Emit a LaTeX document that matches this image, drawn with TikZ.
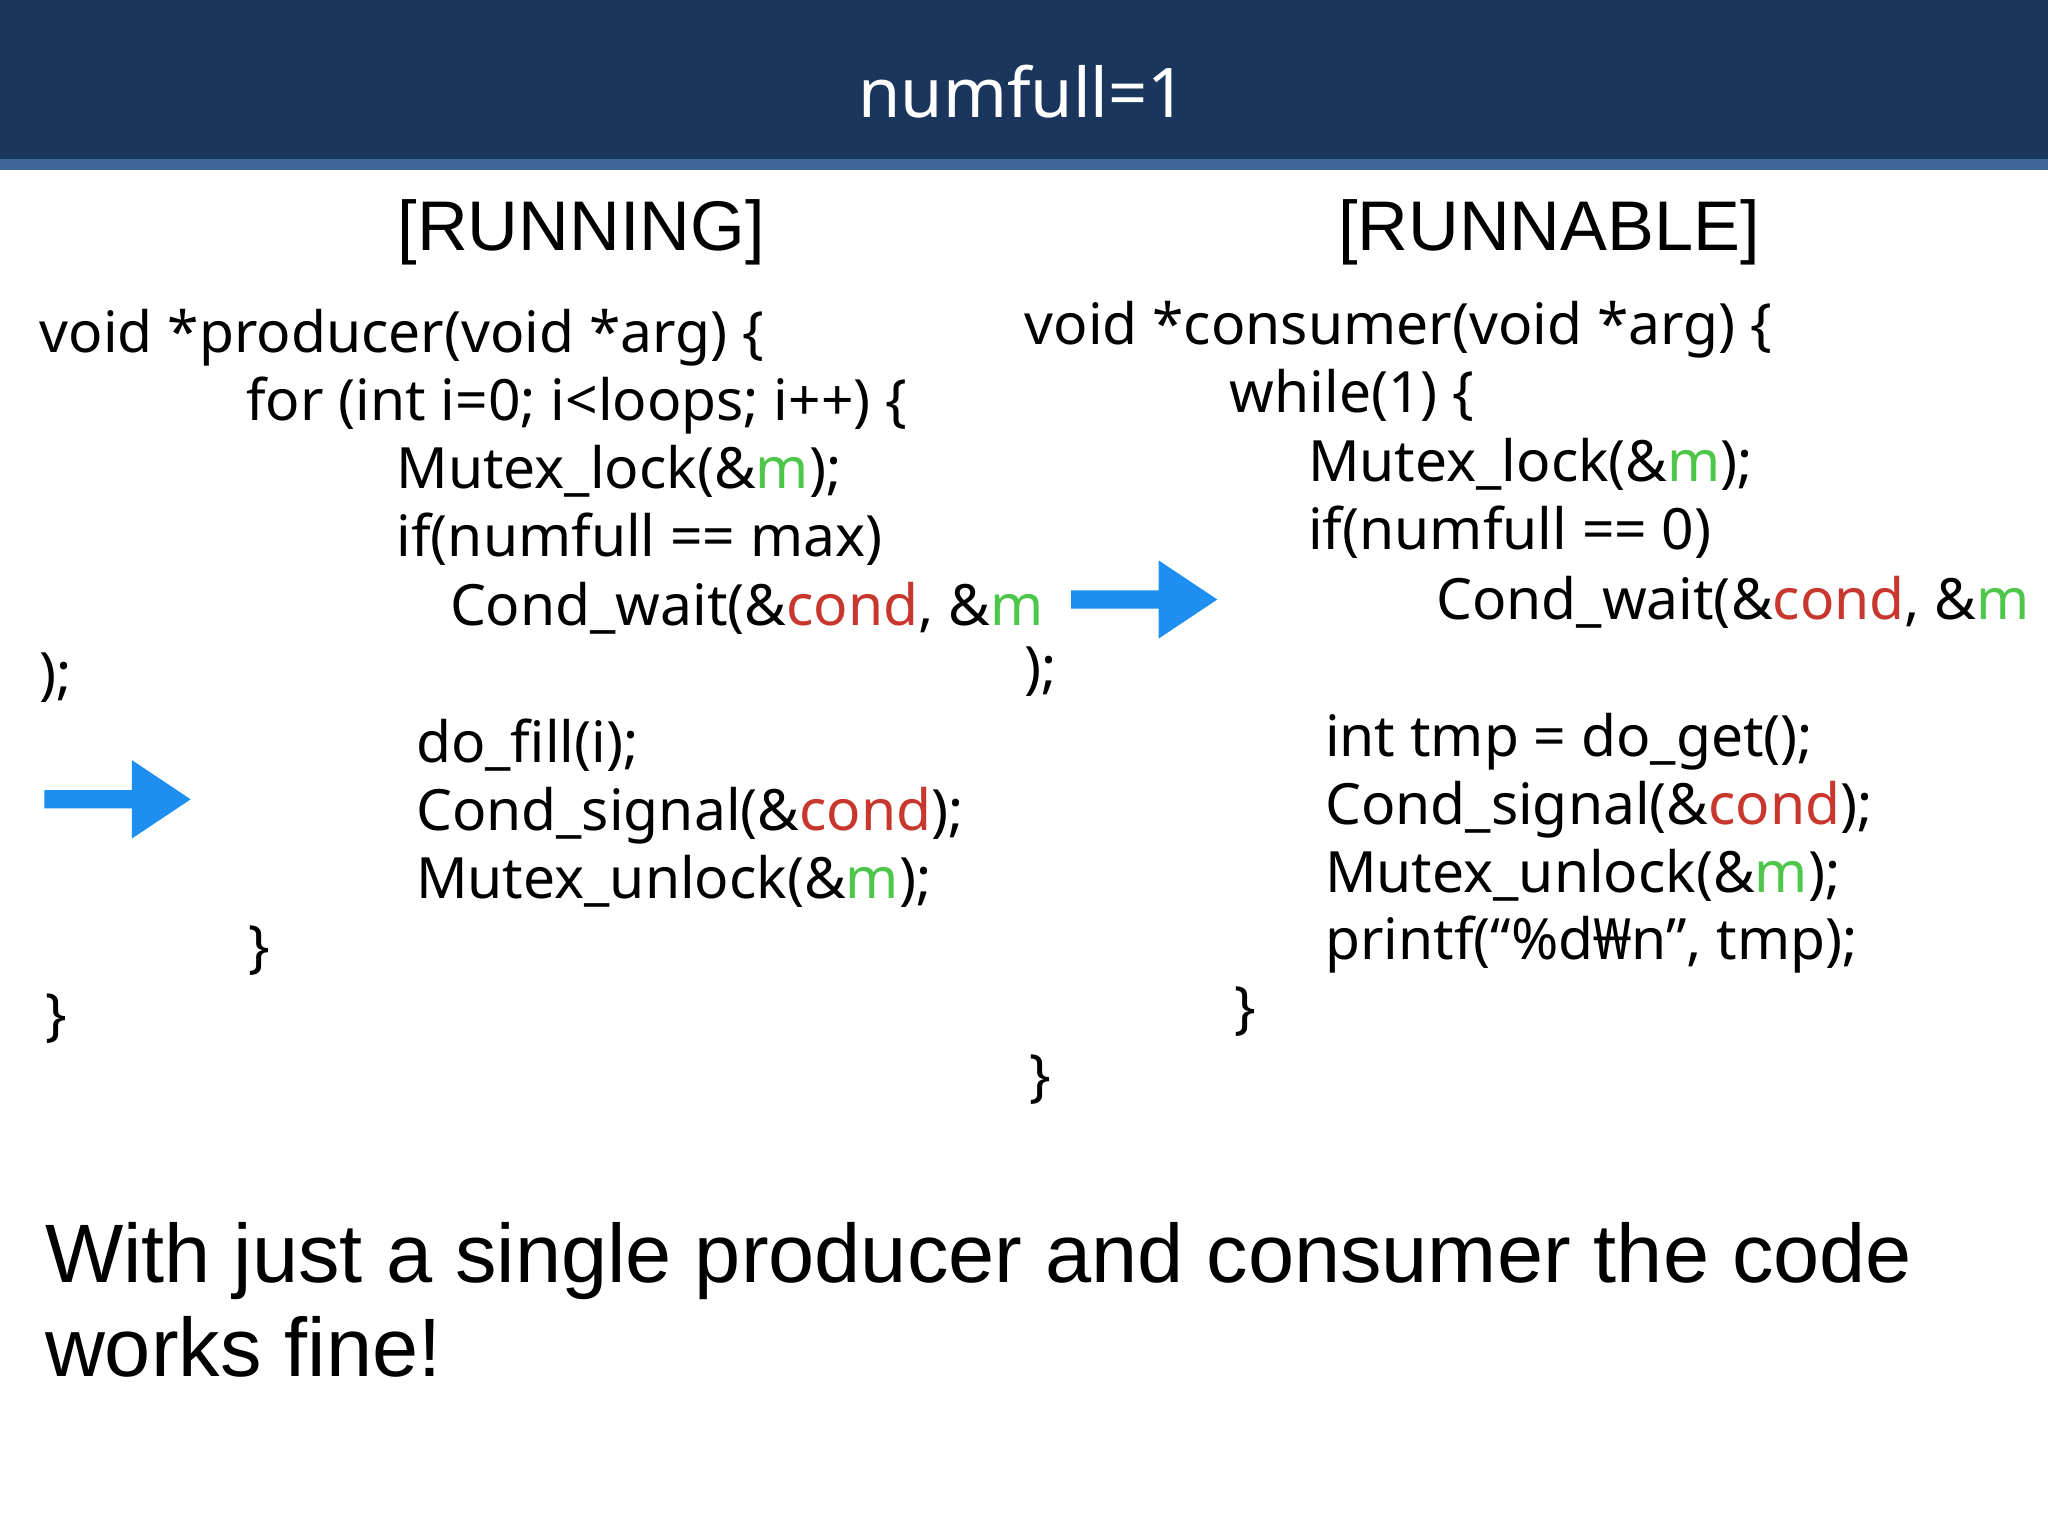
\documentclass[tikz,border=0pt]{standalone}
\usepackage{fontspec}
\setmainfont{Noto Sans}
\newfontfamily\headfont{Liberation Sans}
\definecolor{hdrblue}{HTML}{1B365D}
\definecolor{hdrline}{HTML}{3D6595}
\definecolor{arrblue}{HTML}{1E8FF0}
\definecolor{mgreen}{HTML}{4DC64A}
\definecolor{cred}{HTML}{C8372D}
\newcommand{\mm}{\textcolor{mgreen}{m}}
\newcommand{\cc}{\textcolor{cred}{cond}}
\begin{document}
\begin{tikzpicture}[x=0.01306cm, y=-0.01306cm,
    code/.style={anchor=base west, inner sep=0pt, font=\fontsize{16.2}{20}\selectfont},
    head/.style={inner sep=0pt, font=\headfont\fontsize{20}{24}\selectfont},
    note/.style={anchor=base west, inner sep=0pt, font=\headfont\fontsize{23.6}{28}\selectfont},
    bigarrow/.style={fill=arrblue, draw=none}]
			\useasboundingbox (0,0) rectangle (1568,1176);
			% header bar
			\fill[hdrblue] (0,0) rectangle (1568,122);
			\fill[hdrline] (0,122) rectangle (1568,130);
			\node[text=white, font=\fontsize{19.5}{24}\selectfont] (title) at (783,70) {numfull=1};

			% state labels
			\node[head] (run) at (445,178) {[RUNNING]};
			\node[head] (runnable) at (1186,178) {[RUNNABLE]};

			% producer
			\node[code] (p1) at (30,270) {void *producer(void *arg) \{};
			\node[code] (p2) at (188,322) {for (int i=0; i<loops; i++) \{};
			\node[code] (p3) at (303,374) {Mutex\_lock(\&\mm);};
			\node[code] (p4) at (303,426) {if(numfull == max)};
			\node[code] (p5) at (344,479) {Cond\_wait(\&\cc, \&\mm};
			\node[code] (p6) at (30,531) {);};
			\node[code] (p7) at (318,584) {do\_fill(i);};
			\node[code] (p8) at (318,636) {Cond\_signal(\&\cc);};
			\node[code] (p9) at (318,688) {Mutex\_unlock(\&\mm);};
			\node[code] (p10) at (190,740) {\}};
			\node[code] (p11) at (34,792) {\}};

			% consumer
			\node[code] (c1) at (784,264) {void *consumer(void *arg) \{};
			\node[code] (c2) at (941,316) {while(1) \{};
			\node[code] (c3) at (1001,369) {Mutex\_lock(\&\mm);};
			\node[code] (c4) at (1001,421) {if(numfull == 0)};
			\node[code] (c5) at (1099,474) {Cond\_wait(\&\cc, \&\mm};
			\node[code] (c6) at (784,526) {);};
			\node[code] (c7) at (1014,579) {int tmp = do\_get();};
			\node[code] (c8) at (1014,631) {Cond\_signal(\&\cc);};
			\node[code] (c9) at (1014,683) {Mutex\_unlock(\&\mm);};
			\node[code] (c10) at (1014,735) {printf(“\%d₩n”, tmp);};
			\node[code] (c11) at (945,787) {\}};
			\node[code] (c12) at (788,839) {\}};

			% arrows
			\fill[bigarrow] (34,605) -- (101,605) -- (101,582) -- (146,612) -- (101,642) -- (101,619) -- (34,619) -- cycle;
			\fill[bigarrow] (820,452) -- (887,452) -- (887,429) -- (932,459) -- (887,489) -- (887,466) -- (820,466) -- cycle;

			% bottom remark
			\node[note] (note1) at (34,982) {With just a single producer and consumer the code};
			\node[note] (note2) at (34,1054) {works fine!};
		\end{tikzpicture}
\end{document}
